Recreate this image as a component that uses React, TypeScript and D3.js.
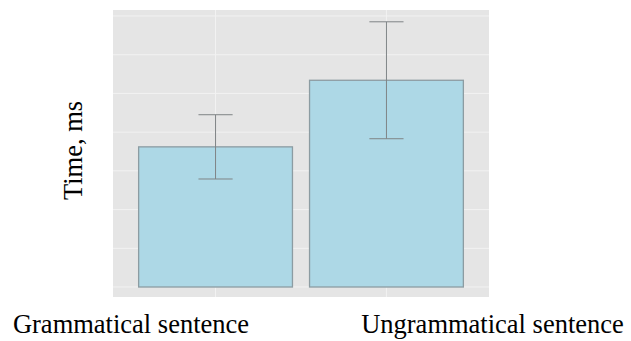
import React from "react";
import * as d3 from "d3";

// values (units: ms, grid step = 100)
const categories = ["Grammatical sentence", "Ungrammatical sentence"];
const means = [362, 534];
const errors = [83, 151];
const gridValues = [0, 100, 200, 300, 400, 500, 600, 700];

const width = 631;
const height = 341;
const panel = { left: 113, right: 489, top: 10, bottom: 297 };

const App = () => {
  const x = d3
    .scaleBand()
    .domain(categories)
    .range([panel.left, panel.right])
    .paddingInner(0.1)
    .paddingOuter(0.15);

  const y = d3
    .scaleLinear()
    .domain([-25.8, 715.5])
    .range([panel.bottom, panel.top]);

  const step = x.step();
  const capHalf = step * 0.1;
  const data = categories.map((c, i) => ({ c, mean: means[i], err: errors[i] }));
  // the labels sit off-centre in the original, so they get their own x
  const labelX = [131, 492.5];

  return (
    <svg
      width={width}
      height={height}
      style={{ position: "absolute", left: 0, top: 0 }}
      fontFamily="'Liberation Serif', 'Times New Roman', serif"
    >
      <rect x={0} y={0} width={width} height={height} fill="#fff" />
      <rect
        x={panel.left}
        y={panel.top}
        width={panel.right - panel.left}
        height={panel.bottom - panel.top}
        fill="#e5e5e5"
      />
      {gridValues.map((v) => (
        <line
          key={"h" + v}
          x1={panel.left}
          x2={panel.right}
          y1={y(v)}
          y2={y(v)}
          stroke="#f2f2f2"
          strokeWidth={1}
        />
      ))}
      {categories.map((c) => (
        <line
          key={"v" + c}
          x1={x(c)! + x.bandwidth() / 2}
          x2={x(c)! + x.bandwidth() / 2}
          y1={panel.top}
          y2={panel.bottom}
          stroke="#f2f2f2"
          strokeWidth={1}
        />
      ))}
      {data.map((d) => (
        <rect
          key={"b" + d.c}
          x={x(d.c)}
          y={y(d.mean)}
          width={x.bandwidth()}
          height={y(0) - y(d.mean)}
          fill="#add8e6"
          stroke="#8c9ca2"
          strokeWidth={1.3}
        />
      ))}
      {data.map((d) => {
        const cx = x(d.c)! + x.bandwidth() / 2;
        return (
          <g key={"e" + d.c} stroke="#7f8486" strokeWidth={1}>
            <line x1={cx} x2={cx} y1={y(d.mean + d.err)} y2={y(d.mean - d.err)} />
            <line x1={cx - capHalf} x2={cx + capHalf} y1={y(d.mean + d.err)} y2={y(d.mean + d.err)} />
            <line x1={cx - capHalf} x2={cx + capHalf} y1={y(d.mean - d.err)} y2={y(d.mean - d.err)} />
          </g>
        );
      })}
      {categories.map((c, i) => (
        <text
          key={"l" + c}
          x={labelX[i]}
          y={333}
          textAnchor="middle"
          fontSize={26.5}
          fill="#000"
        >
          {c}
        </text>
      ))}
      <text
        transform={`translate(82, ${(panel.top + panel.bottom) / 2 - 3}) rotate(-90)`}
        textAnchor="middle"
        fontSize={26.5}
        fill="#000"
      >
        Time, ms
      </text>
    </svg>
  );
};

export default App;
